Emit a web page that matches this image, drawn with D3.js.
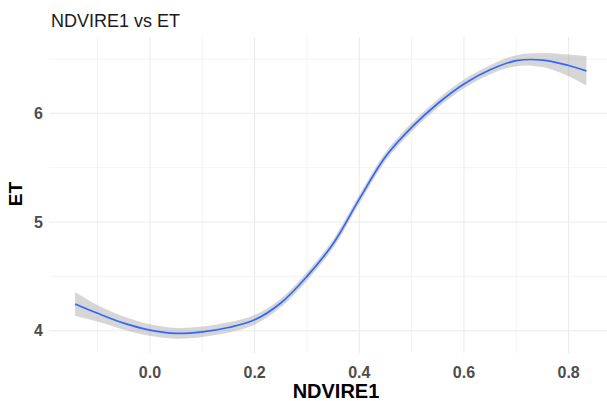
<!DOCTYPE html>
<html>
<head>
<meta charset="utf-8">
<script src="https://cdn.jsdelivr.net/npm/d3@7"></script>
<style>
  html, body { margin: 0; padding: 0; background: #fff; }
  svg { display: block; }
  text { font-family: "Liberation Sans", Arial, sans-serif; }
</style>
</head>
<body>
<script>
// LOESS fit of ET against NDVIRE1, with its standard-error band
const ndvi = [-0.143, -0.10, -0.05, 0.00, 0.05, 0.10, 0.15, 0.20, 0.25, 0.30, 0.35,
              0.40, 0.45, 0.50, 0.55, 0.60, 0.65, 0.70, 0.75, 0.80, 0.834];
const etFit = [4.246, 4.16, 4.07, 4.006, 3.976, 3.99, 4.03, 4.10, 4.255, 4.50, 4.80,
               5.21, 5.60, 5.87, 6.09, 6.27, 6.40, 6.484, 6.49, 6.44, 6.39];
const etSe = [0.11, 0.075, 0.06, 0.053, 0.05, 0.048, 0.047, 0.045, 0.04, 0.04, 0.04,
              0.04, 0.04, 0.04, 0.04, 0.04, 0.042, 0.05, 0.065, 0.10, 0.135];

const xTicks = [0.0, 0.2, 0.4, 0.6, 0.8];
const xMinor = [-0.1, 0.1, 0.3, 0.5, 0.7];
const yTicks = [4, 5, 6];
const yMinor = [4.5, 5.5, 6.5];

const W = 607, H = 401;
const panel = { left: 49, right: 622, top: 37, bottom: 353 };

const svg = d3.select("body").append("svg").attr("width", W).attr("height", H);

const x = d3.scaleLinear().domain([-0.1929, 0.902]).range([panel.left, panel.right]);
const y = d3.scaleLinear().domain([3.795, 6.702]).range([panel.bottom, panel.top]);

const grid = svg.append("g");
grid.selectAll("line.xminor").data(xMinor).join("line")
  .attr("x1", d => x(d)).attr("x2", d => x(d))
  .attr("y1", panel.top).attr("y2", panel.bottom)
  .attr("stroke", "#f0f0f0").attr("stroke-width", 0.8);
grid.selectAll("line.yminor").data(yMinor).join("line")
  .attr("x1", panel.left).attr("x2", panel.right)
  .attr("y1", d => y(d)).attr("y2", d => y(d))
  .attr("stroke", "#f0f0f0").attr("stroke-width", 0.8);
grid.selectAll("line.xmajor").data(xTicks).join("line")
  .attr("x1", d => x(d)).attr("x2", d => x(d))
  .attr("y1", panel.top).attr("y2", panel.bottom)
  .attr("stroke", "#ebebeb").attr("stroke-width", 1.1);
grid.selectAll("line.ymajor").data(yTicks).join("line")
  .attr("x1", panel.left).attr("x2", panel.right)
  .attr("y1", d => y(d)).attr("y2", d => y(d))
  .attr("stroke", "#ebebeb").attr("stroke-width", 1.1);

const pts = ndvi.map((v, i) => ({ x: v, y: etFit[i], se: etSe[i] }));

svg.append("path").datum(pts)
  .attr("fill", "#999999").attr("fill-opacity", 0.4)
  .attr("d", d3.area().curve(d3.curveCatmullRom)
    .x(d => x(d.x)).y0(d => y(d.y - d.se)).y1(d => y(d.y + d.se)));

svg.append("path").datum(pts)
  .attr("fill", "none").attr("stroke", "#3366FF").attr("stroke-width", 1.7)
  .attr("d", d3.line().curve(d3.curveCatmullRom).x(d => x(d.x)).y(d => y(d.y)));

// tick labels
svg.selectAll("text.xt").data(xTicks).join("text")
  .attr("x", d => x(d)).attr("y", 378)
  .attr("text-anchor", "middle").attr("font-size", 16).attr("font-weight", "bold")
  .attr("fill", "#4d4d4d").text(d => d3.format(".1f")(d));
svg.selectAll("text.yt").data(yTicks).join("text")
  .attr("x", 43).attr("y", d => y(d)).attr("dy", "0.35em")
  .attr("text-anchor", "end").attr("font-size", 16).attr("font-weight", "bold")
  .attr("fill", "#4d4d4d").text(d => d);

// titles
svg.append("text").attr("x", 51).attr("y", 26.5)
  .attr("font-size", 18).attr("fill", "#1a1a1a").text("NDVIRE1 vs ET");
svg.append("text").attr("x", 336).attr("y", 398)
  .attr("text-anchor", "middle").attr("font-size", 20).attr("font-weight", "bold")
  .attr("fill", "#000").text("NDVIRE1");
svg.append("text").attr("transform", "translate(21.5,194) rotate(-90)")
  .attr("text-anchor", "middle").attr("font-size", 19).attr("font-weight", "bold")
  .attr("fill", "#000").text("ET");
</script>
</body>
</html>
